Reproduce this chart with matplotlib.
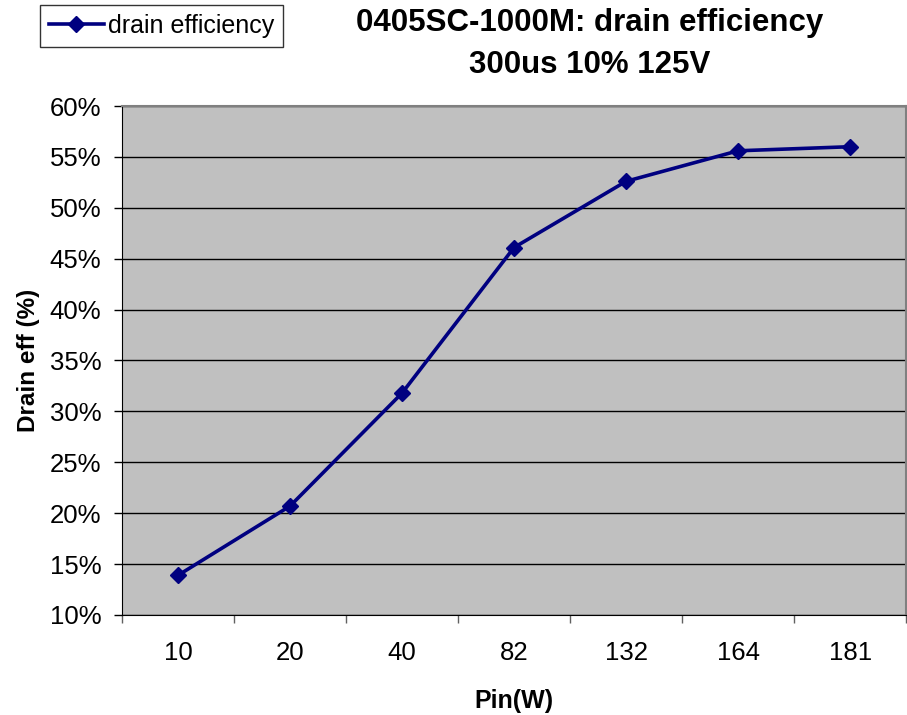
import matplotlib
matplotlib.use("Agg")
import matplotlib.pyplot as plt
from matplotlib.ticker import FixedLocator, PercentFormatter

categories = ["10", "20", "40", "82", "132", "164", "181"]
efficiency = [13.9, 20.7, 31.8, 46.1, 52.6, 55.6, 56.0]
yticks = [10, 15, 20, 25, 30, 35, 40, 45, 50, 55, 60]

plt.rcParams['font.family'] = ['Liberation Sans', 'DejaVu Sans']

fig = plt.figure(figsize=(9.07, 7.15), dpi=100)
ax = fig.add_axes([122/907, 1-615/715, (907-122)/907 - 0.001, (615-106)/715])
ax.set_facecolor('#C0C0C0')

x = list(range(len(categories)))
line, = ax.plot(x, efficiency, color='#000080', lw=2.6, marker='D', ms=8,
                label='drain efficiency', zorder=3)

ax.set_xlim(-0.5, len(categories) - 0.5)
ax.set_ylim(10, 60)
ax.set_yticks(yticks)
ax.yaxis.set_major_formatter(PercentFormatter(decimals=0))
ax.set_xticks(x)
ax.set_xticklabels(categories)
ax.xaxis.set_minor_locator(FixedLocator([i - 0.5 for i in range(len(categories) + 1)]))
ax.tick_params(axis='x', which='major', length=0, pad=19, labelsize=18.5)
ax.tick_params(axis='x', which='minor', length=5.5, width=1, color='#606060')
ax.tick_params(axis='y', length=6, width=1, pad=9, labelsize=18.5)
ax.grid(axis='y', color='black', lw=1)
ax.set_axisbelow(True)

for s in ['top', 'right']:
    ax.spines[s].set_color('#808080')
    ax.spines[s].set_linewidth(1.5)
ax.spines['left'].set_color('black')
ax.spines['bottom'].set_color('black')

ax.set_ylabel('Drain eff (%)', fontsize=17.5, fontweight='bold', labelpad=7)
ax.set_xlabel('Pin(W)', fontsize=18, fontweight='bold', labelpad=17)

fig.text(590/907, 1-23/715, '0405SC-1000M: drain efficiency', ha='center', va='center',
         fontsize=22.5, fontweight='bold')
fig.text(590/907, 1-65/715, '300us 10% 125V', ha='center', va='center',
         fontsize=22.5, fontweight='bold')

leg = fig.legend(handles=[line], loc='upper left', bbox_to_anchor=(40/907, 1-5/715),
                 fontsize=18, frameon=True, fancybox=False, edgecolor='black',
                 handlelength=2.2, borderpad=0.35, handletextpad=0.15, borderaxespad=0)
leg.get_frame().set_linewidth(1)

fig.savefig('out.png', dpi=100)
